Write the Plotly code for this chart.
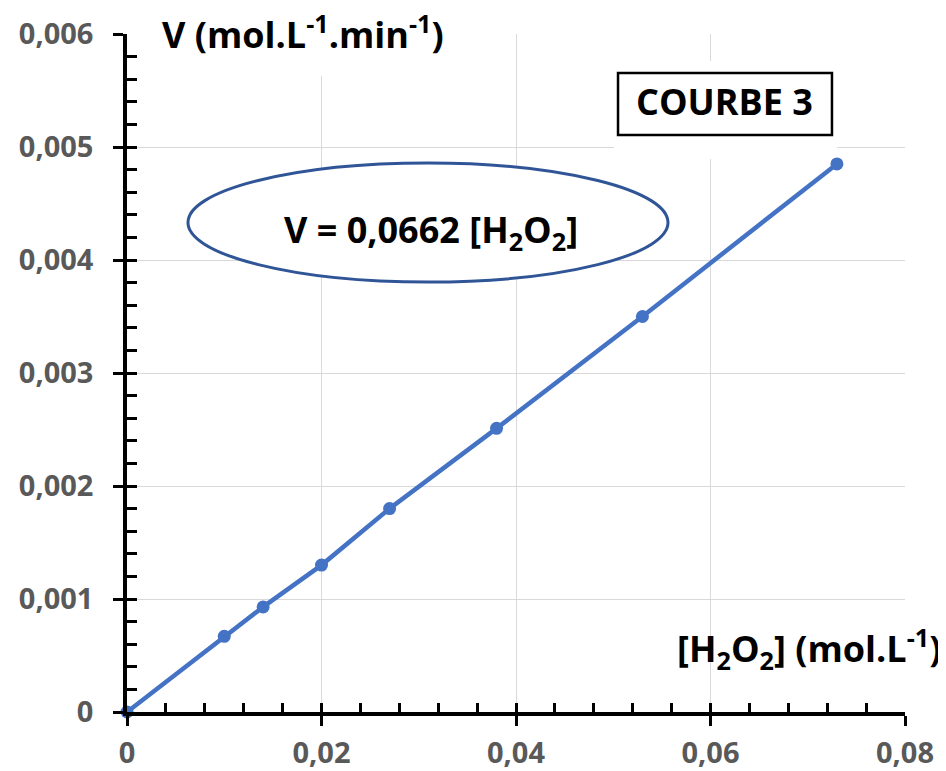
import plotly.graph_objects as go

# Data
concentration = [0.0, 0.010, 0.014, 0.020, 0.027, 0.038, 0.053, 0.073]
rate = [0.0, 0.00067, 0.00093, 0.00130, 0.00180, 0.00251, 0.00350, 0.00485]

x_ticks = [0, 0.02, 0.04, 0.06, 0.08]
x_tick_labels = ["0", "0,02", "0,04", "0,06", "0,08"]
y_ticks = [0, 0.001, 0.002, 0.003, 0.004, 0.005, 0.006]
y_tick_labels = ["0", "0,001", "0,002", "0,003", "0,004", "0,005", "0,006"]

BLUE = "#4472C4"
FONT = "Open Sans"

fig = go.Figure()
fig.add_trace(go.Scatter(
    x=concentration, y=rate, mode="lines+markers",
    line=dict(color=BLUE, width=4.5),
    marker=dict(color=BLUE, size=13),
    cliponaxis=False, showlegend=False,
))
# invisible helper traces so the overlay (minor tick) axes are drawn
fig.add_trace(go.Scatter(x=concentration, y=rate, xaxis="x2", yaxis="y",
                         mode="markers", marker=dict(opacity=0),
                         hoverinfo="skip", showlegend=False))
fig.add_trace(go.Scatter(x=concentration, y=rate, xaxis="x", yaxis="y2",
                         mode="markers", marker=dict(opacity=0),
                         hoverinfo="skip", showlegend=False))

tickfont = dict(family=FONT, size=29, color="#595959", weight="bold")

# page has an 8px body margin, so the figure is 8px smaller in each direction
fig.update_layout(
    width=938, height=763,
    margin=dict(l=119, r=41, t=26, b=59),
    paper_bgcolor="white", plot_bgcolor="white",
    xaxis=dict(
        range=[0, 0.08], tickvals=x_ticks, ticktext=x_tick_labels,
        ticks="outside", ticklen=10, tickwidth=3, tickcolor="black",
        showline=True, linecolor="black", linewidth=3.5,
        showgrid=True, gridcolor="#d9d9d9", gridwidth=1.3, zeroline=False,
        tickfont=tickfont, ticklabelstandoff=2, automargin=False,
    ),
    yaxis=dict(
        range=[0, 0.006], tickvals=y_ticks, ticktext=y_tick_labels,
        ticks="outside", ticklen=10, tickwidth=3, tickcolor="black",
        showline=True, linecolor="black", linewidth=3.5,
        showgrid=True, gridcolor="#d9d9d9", gridwidth=1.3, zeroline=False,
        tickfont=tickfont, ticklabelstandoff=14, automargin=False,
    ),
    xaxis2=dict(
        overlaying="x", anchor="y", side="bottom", range=[0, 0.08],
        tick0=0, dtick=0.004, ticks="inside", ticklen=9, tickwidth=3,
        tickcolor="black", showticklabels=False, showgrid=False,
        showline=False, zeroline=False, automargin=False,
    ),
    yaxis2=dict(
        overlaying="y", anchor="x", side="left", range=[0, 0.006],
        tick0=0, dtick=0.0002, ticks="inside", ticklen=10, tickwidth=3,
        tickcolor="black", showticklabels=False, showgrid=False,
        showline=False, zeroline=False, automargin=False,
    ),
)

# White areas behind the text boxes (cover gridlines)
fig.add_shape(type="rect", xref="x", yref="y", x0=0.0, x1=0.0355,
              y0=0.005628, y1=0.0063, fillcolor="white", line=dict(width=0),
              layer="between")
fig.add_shape(type="rect", xref="x", yref="y", x0=0.05008, x1=0.07301,
              y0=0.004894, y1=0.005761, fillcolor="white", line=dict(width=0),
              layer="between")
fig.add_shape(type="rect", xref="x", yref="y", x0=0.05049, x1=0.07249,
              y0=0.005106, y1=0.005655, fillcolor="white",
              line=dict(color="black", width=2.5), layer="between")
fig.add_shape(type="circle", xref="x", yref="y", x0=0.00627, x1=0.05563,
              y0=0.003805, y1=0.004858, fillcolor="white",
              line=dict(color="#2F5597", width=3), layer="between")

big = dict(family=FONT, size=36, color="black", weight="bold")
fig.add_annotation(xref="x", yref="y", x=0.0181, y=0.00594, yshift=8,
                   text="V (mol.L<sup>-1</sup>.min<sup>-1</sup>)",
                   showarrow=False, font=big)
fig.add_annotation(xref="x", yref="y", x=0.06149, y=0.00540,
                   text="COURBE 3", showarrow=False, font=big)
fig.add_annotation(xref="x", yref="y", x=0.0313, y=0.00425,
                   text="V = 0,0662 [H<sub>2</sub>O<sub>2</sub>]",
                   showarrow=False, font=big)
fig.add_annotation(xref="x", yref="y", x=0.08, y=0.00056, xanchor="right",
                   xshift=38,
                   text="[H<sub>2</sub>O<sub>2</sub>] (mol.L<sup>-1</sup>)",
                   showarrow=False, font=big)

fig.write_html("out.html")
